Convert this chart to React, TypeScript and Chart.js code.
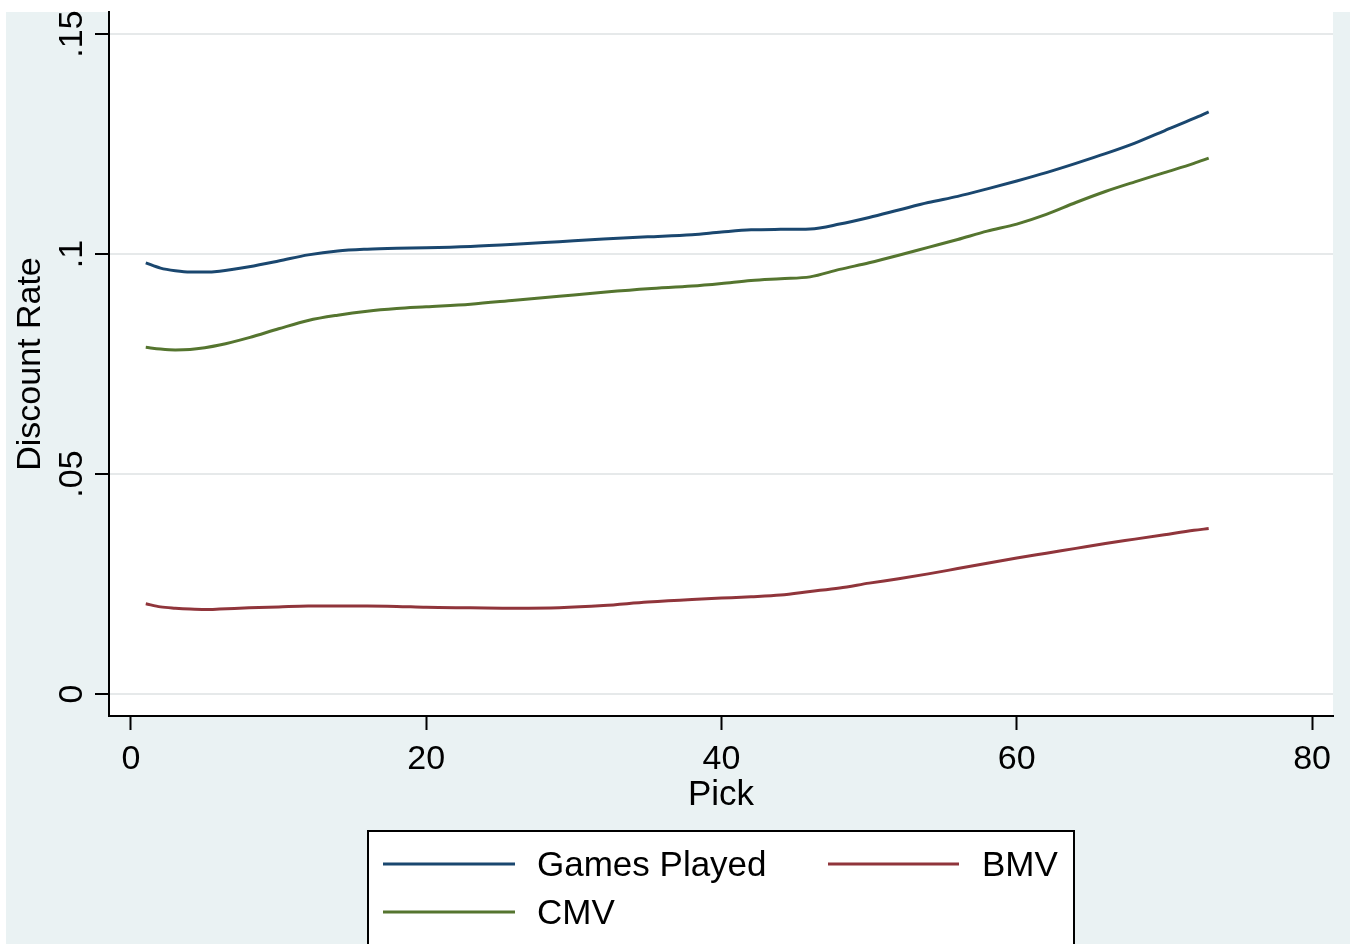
import React, { useEffect, useRef } from 'react';
import { Chart, registerables } from 'chart.js';

Chart.register(...registerables);

// ---- data ----
const picks = [1, 2, 3, 4, 5, 6, 8, 10, 12, 14, 16, 18, 20, 23, 26, 29, 32, 35, 38, 40, 42, 44, 46, 48, 50, 52, 54, 56, 58, 60, 62, 64, 66, 68, 70, 72, 73];

const gamesPlayed = [0.0980, 0.0968, 0.0962, 0.0959, 0.0959, 0.0961, 0.0971, 0.0984, 0.0998, 0.1007, 0.1011, 0.1013, 0.1014, 0.1017, 0.1022, 0.1028, 0.1034, 0.1039, 0.1044, 0.1050, 0.1055, 0.1056, 0.1057, 0.1068, 0.1083, 0.1100, 0.1117, 0.1131, 0.1148, 0.1166, 0.1185, 0.1206, 0.1228, 0.1252, 0.1280, 0.1308, 0.1323];

const bmv = [0.0205, 0.0198, 0.0195, 0.0193, 0.0192, 0.0193, 0.0196, 0.0198, 0.0200, 0.0200, 0.0200, 0.0199, 0.0197, 0.0196, 0.0195, 0.0196, 0.0201, 0.0209, 0.0215, 0.0218, 0.0221, 0.0225, 0.0233, 0.0241, 0.0252, 0.0262, 0.0273, 0.0285, 0.0297, 0.0309, 0.0320, 0.0331, 0.0342, 0.0352, 0.0362, 0.0372, 0.0376];

const cmv = [0.0788, 0.0784, 0.0782, 0.0783, 0.0787, 0.0793, 0.0810, 0.0830, 0.0849, 0.0861, 0.0870, 0.0876, 0.0880, 0.0886, 0.0895, 0.0904, 0.0913, 0.0921, 0.0927, 0.0933, 0.0940, 0.0944, 0.0948, 0.0965, 0.0980, 0.0997, 0.1015, 0.1033, 0.1052, 0.1068, 0.1090, 0.1117, 0.1142, 0.1164, 0.1185, 0.1206, 0.1218];

const seriesNames = ['Games Played', 'BMV', 'CMV'];
const seriesColors = ['#1a476f', '#90353b', '#55752f'];

const xTickValues = [0, 20, 40, 60, 80];
const yTickValues = [0, 0.05, 0.1, 0.15];
const yTickLabels = ['0', '.05', '.1', '.15'];

const xTitle = 'Pick';
const yTitle = 'Discount Rate';

const FONT = '"Liberation Sans", Arial, Helvetica, sans-serif';

const toPoints = (vals: number[]) => picks.map((p, i) => ({ x: p, y: vals[i] }));

const backgroundPlugin = {
  id: 'stataBackground',
  beforeDraw(chart: any) {
    const { ctx, chartArea } = chart;
    ctx.save();
    ctx.fillStyle = '#ffffff';
    ctx.fillRect(0, 0, chart.width, chart.height);
    ctx.fillStyle = '#eaf2f3';
    ctx.fillRect(6, 12, chart.width - 9, chart.height - 12);
    ctx.fillStyle = '#ffffff';
    ctx.fillRect(chartArea.left, chartArea.top, chartArea.right - chartArea.left, chartArea.bottom - chartArea.top);
    ctx.restore();
  },
};

const yLabelPlugin = {
  id: 'rotatedYLabels',
  afterDraw(chart: any) {
    const { ctx } = chart;
    const yScale = chart.scales.y;
    ctx.save();
    ctx.fillStyle = '#000';
    ctx.font = `34px ${FONT}`;
    ctx.textAlign = 'center';
    ctx.textBaseline = 'alphabetic';
    yTickValues.forEach((v, i) => {
      const py = yScale.getPixelForValue(v);
      ctx.save();
      ctx.translate(82, py);
      ctx.rotate(-Math.PI / 2);
      ctx.fillText(yTickLabels[i], 0, 0);
      ctx.restore();
    });
    ctx.restore();
  },
};

const legendPlugin = {
  id: 'stataLegend',
  afterDraw(chart: any) {
    const { ctx } = chart;
    ctx.save();
    ctx.fillStyle = '#ffffff';
    ctx.fillRect(368, 831, 706, 130);
    ctx.strokeStyle = '#000';
    ctx.lineWidth = 2;
    ctx.strokeRect(368, 831, 706, 130);
    const slots = [
      { lx1: 383, lx2: 515, tx: 537, y: 864 },
      { lx1: 828, lx2: 959, tx: 982, y: 864 },
      { lx1: 383, lx2: 515, tx: 537, y: 912 },
    ];
    ctx.font = `35px ${FONT}`;
    ctx.textAlign = 'left';
    ctx.textBaseline = 'middle';
    chart.data.datasets.forEach((ds: any, i: number) => {
      const s = slots[i];
      ctx.strokeStyle = ds.borderColor;
      ctx.lineWidth = 3;
      ctx.beginPath();
      ctx.moveTo(s.lx1, s.y);
      ctx.lineTo(s.lx2, s.y);
      ctx.stroke();
      ctx.fillStyle = '#000';
      ctx.fillText(ds.label, s.tx, s.y + 2);
    });
    ctx.restore();
  },
};

export default function App() {
  const canvasRef = useRef<HTMLCanvasElement | null>(null);

  useEffect(() => {
    if (!canvasRef.current) return;
    const seriesValues = [gamesPlayed, bmv, cmv];
    const chart = new Chart(canvasRef.current, {
      type: 'line',
      data: {
        datasets: seriesValues.map((vals, i) => ({
          label: seriesNames[i],
          data: toPoints(vals),
          borderColor: seriesColors[i],
          backgroundColor: seriesColors[i],
          borderWidth: 3,
          pointRadius: 0,
          cubicInterpolationMode: 'monotone',
          fill: false,
        })),
      },
      options: {
        responsive: false,
        animation: false,
        devicePixelRatio: 1,
        layout: { padding: { left: 0, top: 12, right: 20, bottom: 128 } },
        plugins: {
          legend: { display: false },
          tooltip: { enabled: false },
        },
        scales: {
          x: {
            type: 'linear',
            min: -1.49,
            max: 81.42,
            afterBuildTicks: (scale: any) => {
              scale.ticks = xTickValues.map((v) => ({ value: v }));
            },
            afterFit: (scale: any) => {
              scale.height = 100;
            },
            grid: {
              drawOnChartArea: false,
              drawTicks: true,
              tickLength: 14,
              tickColor: '#000',
              tickWidth: 2,
            },
            border: { display: true, color: '#000', width: 2 },
            ticks: {
              color: '#000',
              font: { family: FONT, size: 34 },
              padding: 9,
              maxRotation: 0,
              minRotation: 0,
              autoSkip: false,
            },
            title: {
              display: true,
              text: xTitle,
              color: '#000',
              font: { family: FONT, size: 35 },
              padding: { top: 0, bottom: 0 },
            },
          },
          y: {
            type: 'linear',
            min: -0.005,
            max: 0.155,
            afterBuildTicks: (scale: any) => {
              scale.ticks = yTickValues.map((v) => ({ value: v }));
            },
            afterFit: (scale: any) => {
              scale.width = 109;
            },
            grid: {
              color: '#e6e9ea',
              lineWidth: 2,
              drawTicks: true,
              tickLength: 14,
              tickColor: '#000',
              tickWidth: 2,
            },
            border: { display: true, color: '#000', width: 2 },
            ticks: { display: false },
            title: {
              display: true,
              text: yTitle,
              color: '#000',
              font: { family: FONT, size: 34 },
              padding: { top: 10, bottom: 0 },
            },
          },
        },
      },
      plugins: [backgroundPlugin, yLabelPlugin, legendPlugin],
    } as any);
    return () => chart.destroy();
  }, []);

  return (
    <div style={{ position: 'fixed', left: 0, top: 0, width: 1353, height: 944, background: '#fff', overflow: 'hidden' }}>
      <canvas ref={canvasRef} width={1353} height={944} style={{ display: 'block', width: 1353, height: 944 }} />
    </div>
  );
}
